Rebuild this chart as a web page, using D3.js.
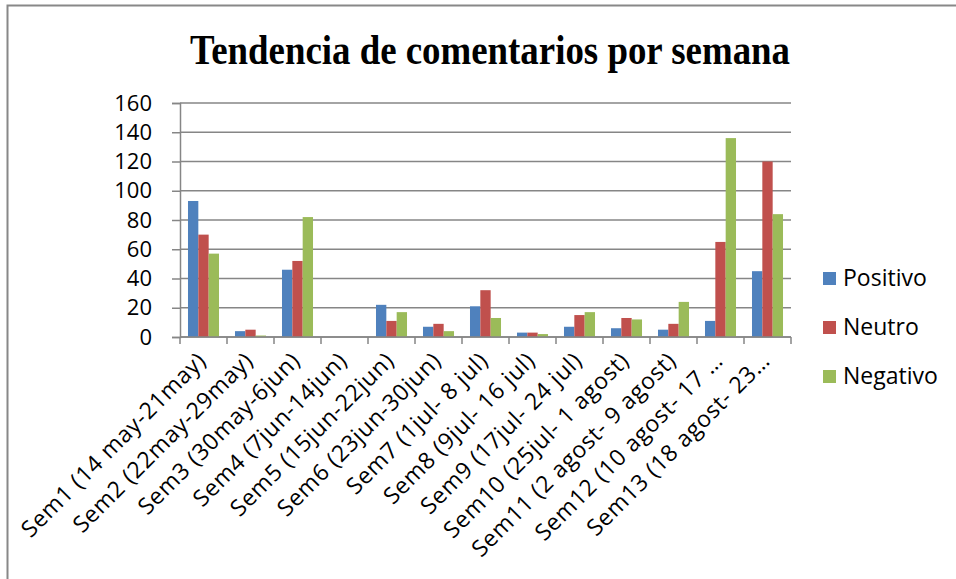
<!DOCTYPE html>
<html>
<head>
<meta charset="utf-8">
<script src="https://cdn.jsdelivr.net/npm/d3@7/dist/d3.min.js"></script>
<style>
  body { margin: 0; background: #fff; }
  svg { font-family: "Open Sans", sans-serif; }
</style>
</head>
<body>
<svg width="956" height="579"></svg>
<script>
let weeks = ["Sem1 (14 may-21may)", "Sem2 (22may-29may)", "Sem3 (30may-6jun)", "Sem4 (7jun-14jun)",
    "Sem5 (15jun-22jun)", "Sem6 (23jun-30jun)", "Sem7 (1jul- 8 jul)", "Sem8 (9jul- 16 jul)",
    "Sem9 (17jul- 24 jul)", "Sem10 (25jul- 1 agost)", "Sem11 (2 agost- 9 agost)",
    "Sem12 (10 agost- 17 …", "Sem13 (18 agost- 23…"];
let seriesNames = ["Positivo", "Neutro", "Negativo"];
let positivo = [93, 4, 46, 0, 22, 7, 21, 3, 7, 6, 5, 11, 45];
let neutro   = [70, 5, 52, 0, 11, 9, 32, 3, 15, 13, 9, 65, 120];
let negativo = [57, 1, 82, 0, 17, 4, 13, 2, 17, 12, 24, 136, 84];
let yTicks = [0, 20, 40, 60, 80, 100, 120, 140, 160];
let colors = ["#4F81BD", "#C0504D", "#9BBB59"];

let series = [positivo, neutro, negativo];
let data = weeks.map(function(w, i) {
    return { week: w, values: series.map(function(s) { return s[i]; }) };
});

let svg = d3.select("svg");

// chart frame
svg.append("rect")
    .attr("x", 7.5).attr("y", 5.5)
    .attr("width", 1000).attr("height", 1000)
    .attr("fill", "none").attr("stroke", "#888").attr("stroke-width", 2);

svg.append("text")
    .attr("x", 490).attr("y", 64)
    .attr("text-anchor", "middle")
    .style("font-family", "'Liberation Serif', 'Times New Roman', serif")
    .style("font-weight", "bold")
    .style("font-size", "42px")
    .attr("textLength", 600)
    .attr("lengthAdjust", "spacingAndGlyphs")
    .text("Tendencia de comentarios por semana");

let plotLeft = 180, plotRight = 791, plotTop = 103, plotBottom = 337;

let x0 = d3.scaleBand().domain(weeks).range([plotLeft, plotRight]).paddingInner(0.34).paddingOuter(0.17);
let x1 = d3.scaleBand().domain(d3.range(3)).range([0, x0.bandwidth()]);
let y = d3.scaleLinear().domain([0, 160]).range([plotBottom, plotTop]);

// gridlines
svg.append("g")
    .selectAll("line")
    .data(yTicks)
    .enter().append("line")
    .attr("x1", plotLeft).attr("x2", plotRight)
    .attr("y1", function(d) { return y(d); })
    .attr("y2", function(d) { return y(d); })
    .attr("stroke", "#868686").attr("stroke-width", 1.5);

// y axis
let yAxis = svg.append("g")
    .attr("transform", "translate(" + plotLeft + ",0)")
    .call(d3.axisLeft(y).tickValues(yTicks).tickSize(8).tickPadding(20));
yAxis.select(".domain").attr("stroke", "#868686").attr("stroke-width", 1.5);
yAxis.selectAll(".tick line").attr("stroke", "#868686").attr("stroke-width", 1.5);
yAxis.selectAll("text")
    .style("font-family", "'Open Sans', sans-serif")
    .style("font-size", "22px")
    .attr("fill", "#000");

// bars
let groups = svg.append("g")
    .selectAll("g")
    .data(data)
    .enter().append("g")
    .attr("transform", function(d) { return "translate(" + x0(d.week) + ",0)"; });

groups.selectAll("rect")
    .data(function(d) { return d.values; })
    .enter().append("rect")
    .attr("x", function(d, i) { return x1(i); })
    .attr("y", function(d) { return y(d); })
    .attr("width", x1.bandwidth())
    .attr("height", function(d) { return plotBottom - y(d); })
    .attr("fill", function(d, i) { return colors[i]; });

// x axis line and ticks at category boundaries
let step = x0.step();
let xg = svg.append("g");
xg.append("line")
    .attr("x1", plotLeft).attr("x2", plotRight)
    .attr("y1", plotBottom).attr("y2", plotBottom)
    .attr("stroke", "#868686").attr("stroke-width", 1.5);
xg.selectAll(".xt")
    .data(d3.range(weeks.length + 1))
    .enter().append("line")
    .attr("class", "xt")
    .attr("x1", function(i) { return plotLeft + i * step; })
    .attr("x2", function(i) { return plotLeft + i * step; })
    .attr("y1", plotBottom).attr("y2", plotBottom + 7)
    .attr("stroke", "#868686").attr("stroke-width", 1.5);

xg.selectAll(".xl")
    .data(weeks)
    .enter().append("text")
    .attr("class", "xl")
    .style("font-size", "23px")
    .style("letter-spacing", "0.7px")
    .attr("text-anchor", "end")
    .attr("transform", function(d) {
        let cx = x0(d) + x0.bandwidth() / 2 + 4;
        return "translate(" + cx + "," + (plotBottom + 25) + ") rotate(-45)";
    })
    .text(function(d) { return d; });

// legend
let legend = svg.append("g")
    .selectAll("g")
    .data(seriesNames)
    .enter().append("g")
    .attr("transform", function(d, i) { return "translate(823," + (272 + i * 49) + ")"; });
legend.append("rect")
    .attr("width", 13).attr("height", 13)
    .attr("fill", function(d, i) { return colors[i]; });
legend.append("text")
    .attr("x", 20).attr("y", 14)
    .style("font-size", "23px")
    .text(function(d) { return d; });
</script>
</body>
</html>
